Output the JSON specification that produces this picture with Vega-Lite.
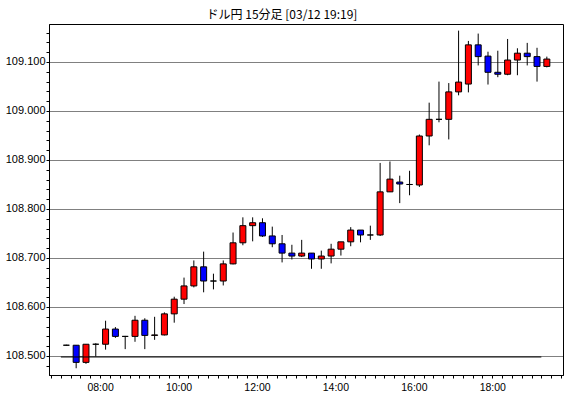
{
  "$schema": "https://vega.github.io/schema/vega-lite/v6.json",
  "autosize": "none",
  "width": 514,
  "height": 351,
  "padding": {"left": 49, "top": 24, "right": 7, "bottom": 23},
  "background": "white",
  "title": {"text": "ドル円 15分足 [03/12 19:19]", "font": "Noto Sans CJK JP", "fontSize": 12, "fontWeight": "normal", "color": "#000", "anchor": "middle", "dx": -24, "offset": 2},
  "config": {"view": {"stroke": "#000", "strokeWidth": 1}},
  "data": {"values": [
    {"t": "2021-03-12T07:00", "o": 108.522, "h": 108.523, "l": 108.521, "c": 108.522},
    {"t": "2021-03-12T07:15", "o": 108.522, "h": 108.522, "l": 108.475, "c": 108.487},
    {"t": "2021-03-12T07:30", "o": 108.487, "h": 108.524, "l": 108.484, "c": 108.524},
    {"t": "2021-03-12T07:45", "o": 108.524, "h": 108.526, "l": 108.499, "c": 108.524},
    {"t": "2021-03-12T08:00", "o": 108.524, "h": 108.572, "l": 108.513, "c": 108.555},
    {"t": "2021-03-12T08:15", "o": 108.555, "h": 108.559, "l": 108.537, "c": 108.540},
    {"t": "2021-03-12T08:30", "o": 108.540, "h": 108.541, "l": 108.514, "c": 108.540},
    {"t": "2021-03-12T08:45", "o": 108.540, "h": 108.582, "l": 108.529, "c": 108.573},
    {"t": "2021-03-12T09:00", "o": 108.573, "h": 108.577, "l": 108.514, "c": 108.542},
    {"t": "2021-03-12T09:15", "o": 108.542, "h": 108.580, "l": 108.533, "c": 108.543},
    {"t": "2021-03-12T09:30", "o": 108.543, "h": 108.589, "l": 108.542, "c": 108.586},
    {"t": "2021-03-12T09:45", "o": 108.586, "h": 108.621, "l": 108.568, "c": 108.616},
    {"t": "2021-03-12T10:00", "o": 108.616, "h": 108.660, "l": 108.606, "c": 108.643},
    {"t": "2021-03-12T10:15", "o": 108.643, "h": 108.695, "l": 108.640, "c": 108.682},
    {"t": "2021-03-12T10:30", "o": 108.682, "h": 108.713, "l": 108.630, "c": 108.653},
    {"t": "2021-03-12T10:45", "o": 108.653, "h": 108.668, "l": 108.636, "c": 108.653},
    {"t": "2021-03-12T11:00", "o": 108.653, "h": 108.695, "l": 108.644, "c": 108.688},
    {"t": "2021-03-12T11:15", "o": 108.688, "h": 108.752, "l": 108.687, "c": 108.731},
    {"t": "2021-03-12T11:30", "o": 108.731, "h": 108.783, "l": 108.726, "c": 108.766},
    {"t": "2021-03-12T11:45", "o": 108.766, "h": 108.783, "l": 108.734, "c": 108.772},
    {"t": "2021-03-12T12:00", "o": 108.772, "h": 108.781, "l": 108.743, "c": 108.745},
    {"t": "2021-03-12T12:15", "o": 108.745, "h": 108.764, "l": 108.722, "c": 108.729},
    {"t": "2021-03-12T12:30", "o": 108.729, "h": 108.747, "l": 108.691, "c": 108.710},
    {"t": "2021-03-12T12:45", "o": 108.710, "h": 108.727, "l": 108.697, "c": 108.704},
    {"t": "2021-03-12T13:00", "o": 108.704, "h": 108.737, "l": 108.702, "c": 108.710},
    {"t": "2021-03-12T13:15", "o": 108.710, "h": 108.710, "l": 108.678, "c": 108.698},
    {"t": "2021-03-12T13:30", "o": 108.698, "h": 108.715, "l": 108.678, "c": 108.704},
    {"t": "2021-03-12T13:45", "o": 108.704, "h": 108.729, "l": 108.689, "c": 108.718},
    {"t": "2021-03-12T14:00", "o": 108.718, "h": 108.733, "l": 108.705, "c": 108.733},
    {"t": "2021-03-12T14:15", "o": 108.733, "h": 108.763, "l": 108.724, "c": 108.757},
    {"t": "2021-03-12T14:30", "o": 108.757, "h": 108.757, "l": 108.732, "c": 108.747},
    {"t": "2021-03-12T14:45", "o": 108.747, "h": 108.766, "l": 108.737, "c": 108.747},
    {"t": "2021-03-12T15:00", "o": 108.747, "h": 108.894, "l": 108.745, "c": 108.835},
    {"t": "2021-03-12T15:15", "o": 108.835, "h": 108.897, "l": 108.835, "c": 108.861},
    {"t": "2021-03-12T15:30", "o": 108.855, "h": 108.868, "l": 108.812, "c": 108.851},
    {"t": "2021-03-12T15:45", "o": 108.850, "h": 108.878, "l": 108.828, "c": 108.850},
    {"t": "2021-03-12T16:00", "o": 108.849, "h": 108.952, "l": 108.845, "c": 108.949},
    {"t": "2021-03-12T16:15", "o": 108.949, "h": 109.017, "l": 108.930, "c": 108.983},
    {"t": "2021-03-12T16:30", "o": 108.983, "h": 109.060, "l": 108.977, "c": 108.983},
    {"t": "2021-03-12T16:45", "o": 108.983, "h": 109.057, "l": 108.942, "c": 109.039},
    {"t": "2021-03-12T17:00", "o": 109.039, "h": 109.164, "l": 109.032, "c": 109.059},
    {"t": "2021-03-12T17:15", "o": 109.055, "h": 109.143, "l": 109.038, "c": 109.135},
    {"t": "2021-03-12T17:30", "o": 109.135, "h": 109.158, "l": 109.093, "c": 109.111},
    {"t": "2021-03-12T17:45", "o": 109.112, "h": 109.121, "l": 109.054, "c": 109.079},
    {"t": "2021-03-12T18:00", "o": 109.079, "h": 109.123, "l": 109.069, "c": 109.075},
    {"t": "2021-03-12T18:15", "o": 109.075, "h": 109.147, "l": 109.073, "c": 109.104},
    {"t": "2021-03-12T18:30", "o": 109.104, "h": 109.128, "l": 109.073, "c": 109.118},
    {"t": "2021-03-12T18:45", "o": 109.118, "h": 109.139, "l": 109.093, "c": 109.111},
    {"t": "2021-03-12T19:00", "o": 109.111, "h": 109.129, "l": 109.060, "c": 109.091},
    {"t": "2021-03-12T19:15", "o": 109.091, "h": 109.111, "l": 109.089, "c": 109.106}
  ]},
  "resolve": {"axis": {"x": "independent", "y": "independent"}},
  "layer": [
    {
      "mark": {"type": "rule", "color": "#000", "strokeWidth": 1, "xOffset": 5.5},
      "encoding": {
        "x": {"field": "t", "type": "temporal",
          "scale": {"domain": [{"year": 2021, "month": 3, "date": 12, "hours": 6, "minutes": 49, "seconds": 30}, {"year": 2021, "month": 3, "date": 12, "hours": 19, "minutes": 40, "seconds": 30}]},
          "axis": {"orient": "bottom", "title": null, "tickCount": 52,
            "labelExpr": "hours(datum.value) % 2 == 0 && minutes(datum.value) == 0 ? timeFormat(datum.value, '%H:%M') : ''",
            "tickSize": 3,
            "tickColor": "#000", "domainColor": "#000", "grid": false,
            "labelFont": "Liberation Sans", "labelFontSize": 10.5, "labelColor": "#000", "labelPadding": 4,
            "labelOverlap": false}},
        "y": {"field": "l", "type": "quantitative",
          "scale": {"domain": [108.461224, 109.177551], "zero": false, "nice": false},
          "axis": {"orient": "left", "title": null,
            "values": [108.48, 108.5, 108.52, 108.54, 108.56, 108.58, 108.6, 108.62, 108.64, 108.66, 108.68, 108.7, 108.72, 108.74, 108.76, 108.78, 108.8, 108.82, 108.84, 108.86, 108.88, 108.9, 108.92, 108.94, 108.96, 108.98, 109.0, 109.02, 109.04, 109.06, 109.08, 109.1, 109.12, 109.14, 109.16],
            "labelExpr": "slice(format(datum.value, '.3f'), -2) == '00' ? format(datum.value, '.3f') : ''",
            "tickSize": 3,
            "tickColor": "#000", "domainColor": "#000",
            "grid": true, "gridColor": "#000", "gridDash": [1, 1],
            "gridOpacity": {"condition": {"test": "slice(format(datum.value, '.3f'), -2) == '00'", "value": 1}, "value": 0},
            "labelFont": "Liberation Sans", "labelFontSize": 11, "labelColor": "#000", "labelPadding": 1,
            "labelOverlap": false}},
        "y2": {"field": "h"}
      }
    },
    {
      "mark": {"type": "bar", "size": 6, "stroke": "#000", "strokeWidth": 1, "xOffset": 5.5},
      "encoding": {
        "x": {"field": "t", "type": "temporal", "axis": null},
        "y": {"field": "o", "type": "quantitative", "axis": null},
        "y2": {"field": "c"},
        "fill": {"condition": {"test": "datum.c >= datum.o", "value": "#ff0000"}, "value": "#0000ff"}
      }
    },
    {
      "data": {"values": [{"level": 108.498, "from": "2021-03-12T07:00", "to": "2021-03-12T19:15"}]},
      "mark": {"type": "rule", "color": "#000", "strokeWidth": 1},
      "encoding": {
        "x": {"field": "from", "type": "temporal", "axis": null},
        "x2": {"field": "to"},
        "y": {"field": "level", "type": "quantitative", "axis": null}
      }
    }
  ]
}
